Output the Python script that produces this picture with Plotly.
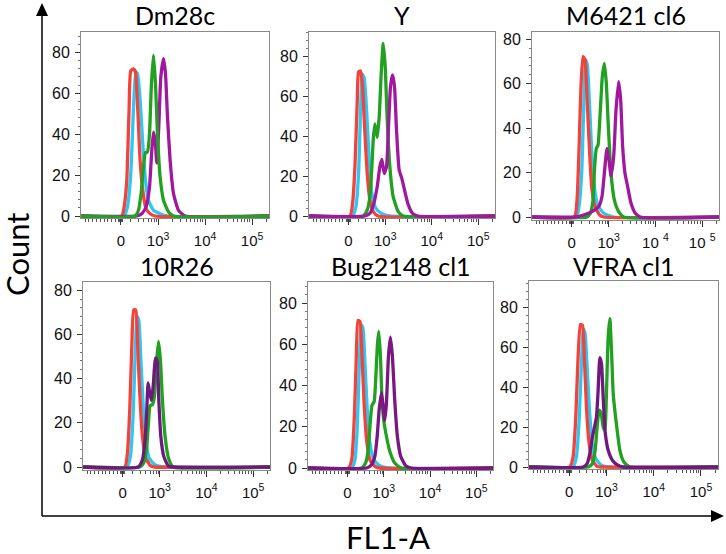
import math
import plotly.graph_objects as go

W, H = 726, 554

# ---------------- data (x in biexponential display units, y = count) ----------------
TITLES = ["Dm28c", "Y", "M6421 cl6", "10R26", "Bug2148 cl1", "VFRA cl1"]
X_TICK_POS = [2.21, 3, 4, 5]
X_TICK_TEXT = ["0", "10<sup>3</sup>", "10<sup>4</sup>", "10<sup>5</sup>"]
X_TICK_TEXT_SPACED = ["0", "10<sup>3</sup>", "10 <sup>4</sup>", "10 <sup>5</sup>"]
Y_TICKS = [0, 20, 40, 60, 80]
X_LIMITS = [1.36, 5.36]

# Dm28c
P1_RED_X = [2.227, 2.277, 2.333, 2.383, 2.419, 2.476, 2.518, 2.568, 2.618, 2.674, 2.745, 2.831, 2.937]
P1_RED_Y = [0, 4.4, 17, 52, 71, 72, 70.5, 52, 27, 12.6, 3.6, 1.1, 0]
P1_CYAN_X = [2.277, 2.348, 2.419, 2.476, 2.525, 2.561, 2.618, 2.674, 2.731, 2.795, 2.902, 3.044, 3.186]
P1_CYAN_Y = [0, 4.4, 20.7, 52, 70.5, 69.7, 56.7, 35.4, 17.5, 7.7, 2.8, 1.1, 0]
P1_GREEN_X = [2.511, 2.582, 2.639, 2.689, 2.731, 2.774, 2.817, 2.859, 2.902, 2.945, 2.987, 3.044, 3.115, 3.222, 3.328]
P1_GREEN_Y = [0, 2.8, 11, 24, 30.9, 31.3, 40, 64.8, 78.7, 64.8, 40, 19, 7.7, 2, 0]
P1_PURPLE_X = [2.547, 2.653, 2.745, 2.817, 2.866, 2.902, 2.937, 2.973, 3.015, 3.058, 3.115, 3.157, 3.200, 3.257, 3.328, 3.434, 3.577]
P1_PURPLE_Y = [0, 1.1, 4.4, 14, 32, 41, 37, 26, 43.6, 68, 77, 69.7, 48.5, 27, 11, 2.8, 0]

# Y
P2_RED_X = [2.240, 2.297, 2.348, 2.398, 2.426, 2.469, 2.512, 2.555, 2.612, 2.670, 2.741, 2.848]
P2_RED_Y = [0, 6.3, 24.7, 58, 72, 72.5, 64.7, 44.7, 21.3, 8, 2.2, 0]
P2_CYAN_X = [2.297, 2.369, 2.426, 2.469, 2.505, 2.548, 2.598, 2.655, 2.712, 2.798, 2.920, 3.099]
P2_CYAN_Y = [0, 4.7, 21.3, 53, 71, 68.8, 53, 28, 11.3, 3.8, 1.3, 0]
P2_GREEN_X = [2.527, 2.612, 2.670, 2.712, 2.741, 2.777, 2.827, 2.870, 2.913, 2.956, 2.999, 3.042, 3.099, 3.170, 3.278, 3.385]
P2_GREEN_Y = [0, 3, 9.7, 24.7, 38, 46, 39.3, 49.7, 71.3, 86.3, 74.7, 48, 24.7, 9.7, 2.2, 0]
P2_PURPLE_X = [2.562, 2.670, 2.755, 2.827, 2.884, 2.927, 2.977, 3.027, 3.070, 3.113, 3.156, 3.199, 3.242, 3.299, 3.356, 3.414, 3.485, 3.585, 3.707]
P2_PURPLE_Y = [0, 1.3, 6.3, 14.7, 24.7, 28.3, 21.3, 24.7, 44.7, 64.7, 70.5, 64.7, 43, 23, 18.8, 13, 6.3, 1.3, 0]

# M6421 cl6
P3_RED_X = [2.266, 2.323, 2.365, 2.408, 2.451, 2.494, 2.536, 2.579, 2.636, 2.708, 2.807, 2.893]
P3_RED_Y = [0, 7.7, 30, 58.7, 72.2, 70.7, 54.2, 34.7, 13.7, 4.7, 0.9, 0]
P3_CYAN_X = [2.308, 2.365, 2.422, 2.465, 2.508, 2.544, 2.586, 2.636, 2.693, 2.765, 2.893, 3.107]
P3_CYAN_Y = [0, 4.7, 19.7, 48.2, 70.7, 68.4, 52.7, 30.2, 13.7, 5.4, 1.7, 0]
P3_GREEN_X = [2.536, 2.608, 2.665, 2.700, 2.736, 2.772, 2.822, 2.864, 2.907, 2.950, 2.993, 3.050, 3.121, 3.214, 3.321]
P3_GREEN_Y = [0, 1.7, 7.7, 22.7, 30.9, 32.4, 48.2, 63.2, 69.2, 60.2, 40.7, 19.7, 7.7, 2.4, 0]
P3_PURPLE_X = [2.287, 2.465, 2.643, 2.786, 2.857, 2.914, 2.964, 3.007, 3.050, 3.107, 3.157, 3.214, 3.257, 3.299, 3.349, 3.406, 3.478, 3.570, 3.677]
P3_PURPLE_Y = [0, 0.9, 2.4, 4.7, 9.2, 21.2, 30.9, 25.7, 18.5, 27.2, 48.2, 61, 52.7, 31.7, 19.7, 13.7, 6.2, 1.7, 0]

# 10R26
P4_RED_X = [2.253, 2.310, 2.360, 2.402, 2.445, 2.488, 2.531, 2.574, 2.631, 2.702, 2.802, 2.895]
P4_RED_Y = [0, 6.3, 25.9, 53, 71.1, 71.1, 54.5, 33.4, 13.9, 4.1, 0.6, 0]
P4_CYAN_X = [2.302, 2.374, 2.431, 2.474, 2.517, 2.552, 2.595, 2.645, 2.702, 2.774, 2.895, 3.145]
P4_CYAN_Y = [0, 4.8, 22.9, 50, 68.1, 66.6, 50, 28.9, 12.4, 4.1, 1.1, 0]
P4_GREEN_X = [2.574, 2.659, 2.717, 2.760, 2.795, 2.845, 2.888, 2.931, 2.974, 3.016, 3.059, 3.116, 3.188, 3.288]
P4_GREEN_Y = [0, 1.8, 7.8, 19.9, 27.7, 28.2, 31.9, 47, 56.8, 48.5, 30.4, 13.9, 4.1, 0]
P4_PURPLE_X = [2.538, 2.631, 2.688, 2.724, 2.752, 2.788, 2.824, 2.867, 2.909, 2.945, 2.981, 3.024, 3.088, 3.181, 3.288]
P4_PURPLE_Y = [0, 3.3, 12.4, 25.9, 38, 33.4, 30.1, 38, 49.3, 48.5, 30.4, 13.9, 4.8, 0.6, 0]

# Bug2148 cl1
P5_RED_X = [2.233, 2.305, 2.362, 2.405, 2.441, 2.484, 2.526, 2.569, 2.627, 2.698, 2.806, 2.913]
P5_RED_Y = [0, 4, 25, 54.1, 71.6, 71.1, 55.8, 33.1, 13.7, 4, 0.8, 0]
P5_CYAN_X = [2.305, 2.376, 2.426, 2.469, 2.512, 2.548, 2.591, 2.641, 2.698, 2.784, 2.913, 3.128]
P5_CYAN_Y = [0, 4, 20.2, 49.3, 69.5, 67.9, 50.9, 28.3, 12.1, 4, 1.1, 0]
P5_GREEN_X = [2.519, 2.605, 2.662, 2.705, 2.741, 2.791, 2.827, 2.863, 2.891, 2.927, 2.963, 3.006, 3.056, 3.128, 3.235, 3.378]
P5_GREEN_Y = [0, 2.4, 8.9, 21.8, 30.2, 32.3, 44.4, 60.6, 66.3, 54.1, 31.5, 21.8, 15.4, 8.1, 2.4, 0]
P5_PURPLE_X = [2.627, 2.734, 2.806, 2.856, 2.899, 2.949, 2.985, 3.020, 3.056, 3.099, 3.142, 3.185, 3.235, 3.292, 3.364, 3.471, 3.593]
P5_PURPLE_Y = [0, 1.6, 5.7, 15.4, 28.3, 36.4, 29.9, 23.1, 31.5, 54.1, 63.5, 54.1, 33.1, 15.4, 5.7, 1.1, 0]

# VFRA cl1
P6_RED_X = [2.223, 2.293, 2.350, 2.399, 2.449, 2.491, 2.534, 2.576, 2.633, 2.703, 2.802, 2.894]
P6_RED_Y = [0, 5, 25.1, 55.2, 71.6, 71.1, 53.6, 30.1, 11.7, 3.3, 0.3, 0]
P6_CYAN_X = [2.293, 2.364, 2.421, 2.470, 2.512, 2.548, 2.590, 2.640, 2.696, 2.774, 2.894, 3.071]
P6_CYAN_Y = [0, 5, 23.4, 51.9, 69.5, 66.9, 50.2, 28.5, 11.7, 4.2, 0.8, 0]
P6_GREEN_X = [2.611, 2.703, 2.760, 2.802, 2.845, 2.887, 2.930, 2.965, 3.001, 3.036, 3.071, 3.106, 3.142, 3.184, 3.226, 3.283, 3.368, 3.495]
P6_GREEN_Y = [0, 1.7, 8.4, 20.1, 28.5, 26.8, 20.1, 18.4, 38.5, 65.3, 74.5, 58.6, 36.8, 26.8, 18.4, 8.4, 2.5, 0]
P6_PURPLE_X = [2.505, 2.590, 2.647, 2.703, 2.753, 2.788, 2.823, 2.859, 2.894, 2.930, 2.972, 3.036, 3.128, 3.248, 3.354]
P6_PURPLE_Y = [0, 1.7, 6.7, 15.1, 20.9, 25.1, 38.5, 54.9, 51.9, 35.1, 17.6, 8.4, 3.3, 0.8, 0]

PANEL_DATA = [
    {"red": (P1_RED_X, P1_RED_Y), "cyan": (P1_CYAN_X, P1_CYAN_Y), "green": (P1_GREEN_X, P1_GREEN_Y), "purple": (P1_PURPLE_X, P1_PURPLE_Y)},
    {"red": (P2_RED_X, P2_RED_Y), "cyan": (P2_CYAN_X, P2_CYAN_Y), "green": (P2_GREEN_X, P2_GREEN_Y), "purple": (P2_PURPLE_X, P2_PURPLE_Y)},
    {"red": (P3_RED_X, P3_RED_Y), "cyan": (P3_CYAN_X, P3_CYAN_Y), "green": (P3_GREEN_X, P3_GREEN_Y), "purple": (P3_PURPLE_X, P3_PURPLE_Y)},
    {"red": (P4_RED_X, P4_RED_Y), "cyan": (P4_CYAN_X, P4_CYAN_Y), "green": (P4_GREEN_X, P4_GREEN_Y), "purple": (P4_PURPLE_X, P4_PURPLE_Y)},
    {"red": (P5_RED_X, P5_RED_Y), "cyan": (P5_CYAN_X, P5_CYAN_Y), "green": (P5_GREEN_X, P5_GREEN_Y), "purple": (P5_PURPLE_X, P5_PURPLE_Y)},
    {"red": (P6_RED_X, P6_RED_Y), "cyan": (P6_CYAN_X, P6_CYAN_Y), "green": (P6_GREEN_X, P6_GREEN_Y), "purple": (P6_PURPLE_X, P6_PURPLE_Y)},
]

# ---------------- styling / layout ----------------
COLORS = {"red": "#F2423A", "cyan": "#2EC6F2", "green": "#22A022"}
PURPLES = ["#A0189E", "#A0189E", "#A0189E", "#6C1A7C", "#7A1782", "#6E1A7C"]
DRAW_ORDER = [["cyan", "red", "purple", "green"]] + [["cyan", "red", "green", "purple"]] * 5

# pixel boxes: (left, right, top, zero-line)
BOXES = [(81, 269, 32, 216), (309, 495, 32, 216), (532, 719, 32, 217),
         (83, 270, 282, 467), (308, 493, 282, 468), (529, 718, 281, 467)]
Y_TOPS = [90, 92, 83.3, 83.7, 90.3, 93.4]
Y_BOTTOM = -1.2


def fx(p):
    return p / W


def fy(p):
    return 1 - p / H


minor_x = [1.45 + 0.08 * i for i in range(9)]
minor_x += [2.16 + 0.01 * i for i in range(10)]
minor_x += [2.42, 2.58, 2.70, 2.80, 2.87, 2.93, 2.97]
for d in (3, 4):
    minor_x += [d + math.log10(m) for m in range(2, 10)]
minor_x += [5 + math.log10(2)]

fig = go.Figure()
layout = dict(
    width=W, height=H, margin=dict(l=0, r=0, t=0, b=0, autoexpand=False),
    paper_bgcolor="white", plot_bgcolor="white", showlegend=False,
    font=dict(family="Liberation Sans, Arial", size=14, color="#111"),
)

annotations = []
for i in range(6):
    n = "" if i == 0 else str(i + 1)
    left, right, top, zero = BOXES[i]
    ytop = Y_TOPS[i]
    ppu = (zero - top) / ytop
    bottom = zero - Y_BOTTOM * ppu
    xa = "x" + n
    ya = "y" + n
    for key in DRAW_ORDER[i]:
        xs, ys = PANEL_DATA[i][key]
        color = PURPLES[i] if key == "purple" else COLORS[key]
        fig.add_trace(go.Scatter(
            x=[X_LIMITS[0]] + list(xs) + [X_LIMITS[1]],
            y=[0] + list(ys) + [0],
            mode="lines", line=dict(color=color, width=3.3, shape="spline", smoothing=0.5),
            xaxis=xa, yaxis=ya, hoverinfo="skip"))
    layout["xaxis" + n] = dict(
        domain=[fx(left), fx(right)], anchor=ya, range=X_LIMITS, automargin=False,
        tickmode="array", tickvals=X_TICK_POS,
        ticktext=X_TICK_TEXT_SPACED if i == 2 else X_TICK_TEXT,
        ticks="outside", ticklen=6, tickwidth=1, tickcolor="#333",
        minor=dict(tickvals=minor_x, ticks="outside", ticklen=3, tickcolor="#555", tickwidth=1),
        showline=True, mirror=True, linecolor="#8a8a8a", linewidth=1,
        showgrid=False, zeroline=False, ticklabelstandoff=3,
        tickfont=dict(family="Liberation Sans, Arial", size=15, color="#111"),
    )
    layout["yaxis" + n] = dict(
        domain=[fy(bottom), fy(top)], anchor=xa, range=[Y_BOTTOM, ytop], automargin=False,
        tickmode="array", tickvals=Y_TICKS,
        ticks="outside", ticklen=5, tickwidth=1, tickcolor="#333",
        minor=dict(dtick=4, tick0=0, ticks="outside", ticklen=2, tickcolor="#777"),
        showline=True, mirror=True, linecolor="#8a8a8a", linewidth=1,
        showgrid=False, zeroline=False, ticklabelstandoff=2,
        tickfont=dict(family="Liberation Sans, Arial", size=16, color="#111"),
    )
    ty = 15 if i < 3 else 266
    annotations.append(dict(
        text=TITLES[i], x=fx((left + right) / 2), y=fy(ty), xref="paper", yref="paper",
        xanchor="center", yanchor="middle", showarrow=False,
        font=dict(family="Lato", size=25, color="black")))

annotations.append(dict(text="Count", x=fx(17), y=fy(255), xref="paper", yref="paper",
                        textangle=-90, showarrow=False, xanchor="center", yanchor="middle",
                        font=dict(family="Lato", size=31, color="black")))
annotations.append(dict(text="FL1-A", x=fx(388), y=fy(537), xref="paper", yref="paper",
                        showarrow=False, xanchor="center", yanchor="middle",
                        font=dict(family="Lato", size=31, color="black")))
layout["annotations"] = annotations

ax_x, ax_y = 42, 516
shapes = [
    dict(type="line", xref="paper", yref="paper", x0=fx(ax_x), y0=fy(ax_y), x1=fx(ax_x), y1=fy(14),
         line=dict(color="black", width=1.5)),
    dict(type="line", xref="paper", yref="paper", x0=fx(ax_x), y0=fy(ax_y), x1=fx(713), y1=fy(ax_y),
         line=dict(color="black", width=1.5)),
    dict(type="path", xref="paper", yref="paper",
         path=f"M {fx(ax_x)},{fy(3)} L {fx(ax_x - 6)},{fy(16)} L {fx(ax_x + 6)},{fy(16)} Z",
         fillcolor="black", line=dict(color="black", width=0)),
    dict(type="path", xref="paper", yref="paper",
         path=f"M {fx(724)},{fy(ax_y)} L {fx(711)},{fy(ax_y - 6)} L {fx(711)},{fy(ax_y + 6)} Z",
         fillcolor="black", line=dict(color="black", width=0)),
]
layout["shapes"] = shapes

fig.update_layout(**layout)
fig.write_html("out.html", config={"displayModeBar": False},
               post_script="document.body.style.margin='0';document.body.style.overflow='hidden';")
